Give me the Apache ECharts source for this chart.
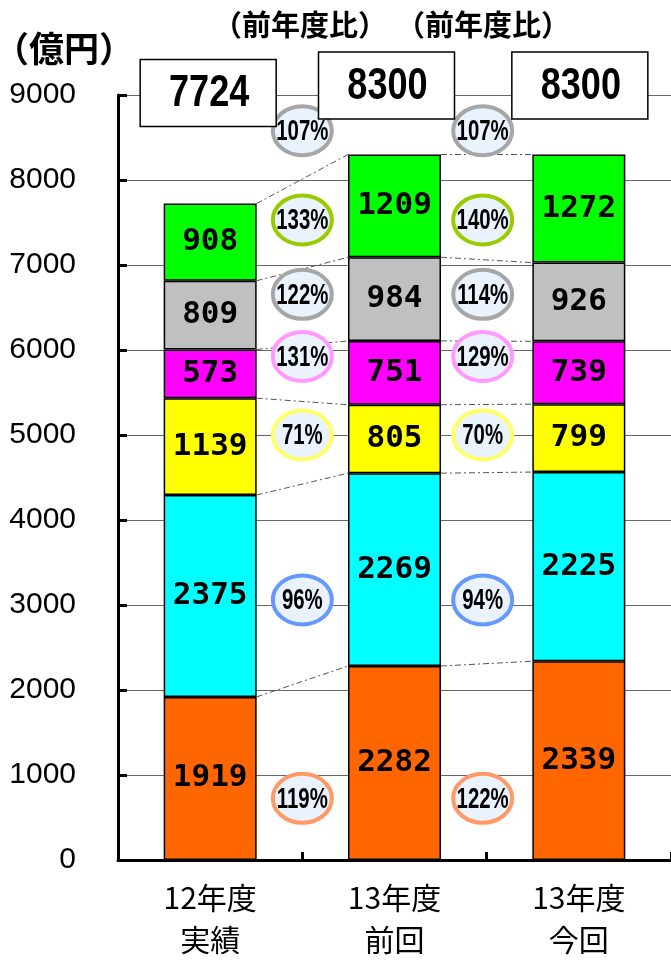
<!DOCTYPE html>
<html>
<head>
<meta charset="utf-8">
<script src="https://cdn.jsdelivr.net/npm/echarts@6/dist/echarts.min.js"></script>
<style>
html,body{margin:0;padding:0;background:#fff;overflow:hidden;}
#main{width:671px;height:961px;}
</style>
</head>
<body>
<div id="main"></div>
<script>
// ---- data ----
const categories = ['12年度\n実績', '13年度\n前回', '13年度\n今回'];
const orange  = [1919, 2282, 2339];
const cyan    = [2375, 2269, 2225];
const yellow  = [1139, 805, 799];
const magenta = [573, 751, 739];
const gray    = [809, 984, 926];
const green   = [908, 1209, 1272];
const totals  = [7724, 8300, 8300];
// ratios vs 12年度, ordered orange, cyan, yellow, magenta, gray, green, total
const ratiosCol1 = ['119%', '96%', '71%', '131%', '122%', '133%', '107%'];
const ratiosCol2 = ['122%', '94%', '70%', '129%', '114%', '140%', '107%'];
const ratioHeader = '（前年度比）';
const unitLabel = '（億円）';

// ---- layout / style ----
const BAR_W = 93;
const segColors = ['#FF6600', '#00FFFF', '#FFFF00', '#FF00FF', '#C0C0C0', '#00FF00'];
const ringColors = ['#FF9966', '#6699FF', '#FFFF66', '#FF99FF', '#A6A6A6', '#99CC00', '#A6A6A6'];
const ellipseLevels = [726, 3060, 5000, 5925, 6655, 7530, 8580]; // axis units
const ellipseShiftX = [0, -4];
const boxLevels = [9023, 9111, 9111];
const boxShiftX = [-2, -8, 1];

const segs = [orange, cyan, yellow, magenta, gray, green];
const segNames = ['orange', 'cyan', 'yellow', 'magenta', 'gray', 'green'];

// cumulative tops for connectors
const cum = categories.map((_, i) => {
  let s = 0; return segs.map(a => (s += a[i]));
});
const connectorData = [];
for (let k = 0; k < segs.length; k++) {
  for (let i = 0; i < categories.length - 1; i++) {
    connectorData.push([i, cum[i][k], cum[i + 1][k]]);
  }
}
const ellipseData = [];
[ratiosCol1, ratiosCol2].forEach((arr, col) => {
  arr.forEach((t, k) => ellipseData.push([col, ellipseLevels[k], t, k]));
});
const boxData = totals.map((t, i) => [i, boxLevels[i], t]);

const chart = echarts.init(document.getElementById('main'), null, {renderer: 'canvas'});

const barSeries = segs.map((arr, idx) => ({
  name: segNames[idx],
  type: 'bar',
  stack: 'total',
  barWidth: BAR_W,
  data: arr,
  z: 2,
  itemStyle: { color: segColors[idx], borderColor: '#000', borderWidth: 1.5 },
  label: {
    show: true, position: 'inside', color: '#000',
    fontFamily: 'DejaVu Sans Mono', fontWeight: 'bold', fontSize: 31
  }
}));

const option = {
  animation: false,
  backgroundColor: '#fff',
  grid: { left: 118, right: -10, top: 95, bottom: 94, containLabel: false },
  xAxis: {
    type: 'category',
    data: categories,
    axisLine: { lineStyle: { color: '#000', width: 3 } },
    axisTick: { show: true, inside: true, length: 8, interval: 0, lineStyle: { color: '#000', width: 3 } },
    axisLabel: {
      color: '#000', fontFamily: 'Noto Sans CJK JP', fontSize: 30, lineHeight: 42, margin: 17, interval: 0
    },
    splitLine: { show: false }
  },
  yAxis: {
    type: 'value', min: 0, max: 9000, interval: 1000,
    axisLine: { show: true, lineStyle: { color: '#000', width: 3 } },
    axisTick: { show: true, inside: true, length: 9, lineStyle: { color: '#000', width: 3 } },
    axisLabel: {
      color: '#000', fontFamily: '"Liberation Sans", Arial', fontSize: 30, margin: 42,
      formatter: function (v) { return String(v); }
    },
    splitLine: { show: true, lineStyle: { color: '#666', width: 1 } }
  },
  graphic: [
    { type: 'text', left: -6, top: 31, z: 10,
      style: { text: unitLabel, fontFamily: 'Noto Sans CJK JP', fontWeight: 'bold', fontSize: 35, fill: '#000' } },
    { type: 'text', x: 300, y: 25, z: 10,
      style: { text: ratioHeader, fontFamily: 'Noto Sans CJK JP', fontWeight: 'bold', fontSize: 29, fill: '#000', align: 'center', verticalAlign: 'middle' } },
    { type: 'text', x: 483, y: 25, z: 10,
      style: { text: ratioHeader, fontFamily: 'Noto Sans CJK JP', fontWeight: 'bold', fontSize: 29, fill: '#000', align: 'center', verticalAlign: 'middle' } }
  ],
  series: barSeries.concat([
    {
      type: 'custom', name: 'connectors', z: 3, silent: true,
      data: connectorData,
      renderItem: function (params, api) {
        const i = api.value(0);
        const p1 = api.coord([i, api.value(1)]);
        const p2 = api.coord([i + 1, api.value(2)]);
        return {
          type: 'line',
          shape: { x1: p1[0] + BAR_W / 2, y1: p1[1], x2: p2[0] - BAR_W / 2, y2: p2[1] },
          style: { stroke: '#555', lineWidth: 1, lineDash: [6, 3, 2, 3] }
        };
      }
    },
    {
      type: 'custom', name: 'ratios', z: 6, silent: true,
      data: ellipseData,
      renderItem: function (params, api) {
        const col = api.value(0);
        const a = api.coord([col, api.value(1)]);
        const b = api.coord([col + 1, api.value(1)]);
        const cx = (a[0] + b[0]) / 2 + ellipseShiftX[col];
        const cy = a[1];
        const item = ellipseData[params.dataIndex];
        return {
          type: 'group',
          children: [
            { type: 'ellipse', shape: { cx: cx, cy: cy, rx: 29.5, ry: 24.5 },
              style: { fill: '#EAF2FD', stroke: ringColors[item[3]], lineWidth: 4 } },
            { type: 'text', x: cx, y: cy + 1, scaleX: 0.68,
              style: { text: item[2], fontFamily: '"Liberation Sans", Arial', fontWeight: 'bold', fontSize: 30,
                       fill: '#000', align: 'center', verticalAlign: 'middle' } }
          ]
        };
      }
    },
    {
      type: 'custom', name: 'totals', z: 6, silent: true,
      data: boxData,
      renderItem: function (params, api) {
        const i = api.value(0);
        const p = api.coord([i, api.value(1)]);
        const cx = p[0] + boxShiftX[i];
        const cy = p[1];
        const w = 136, h = 67;
        return {
          type: 'group',
          children: [
            { type: 'rect', shape: { x: cx - w / 2, y: cy - h / 2, width: w, height: h },
              style: { fill: '#fff', stroke: '#000', lineWidth: 1.5 } },
            { type: 'text', x: cx + 1, y: cy + 1, scaleX: 0.82,
              style: { text: String(boxData[params.dataIndex][2]), fontFamily: '"Liberation Sans", Arial',
                       fontWeight: 'bold', fontSize: 44, fill: '#000', align: 'center', verticalAlign: 'middle' } }
          ]
        };
      }
    }
  ])
};
chart.setOption(option);
</script>
</body>
</html>
